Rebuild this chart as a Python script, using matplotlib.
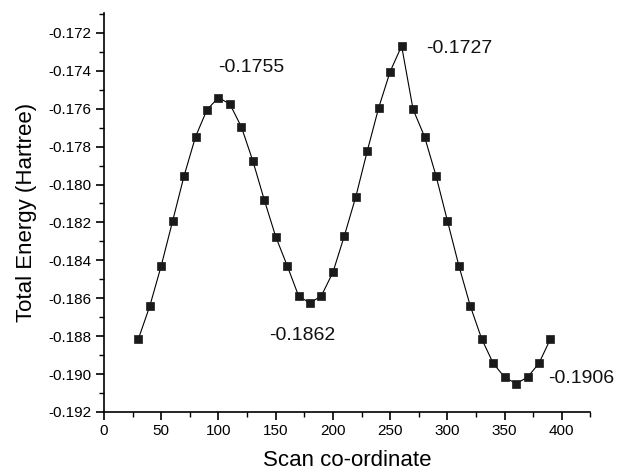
import matplotlib
matplotlib.use("Agg")
import matplotlib.pyplot as plt
from matplotlib.ticker import MultipleLocator, FormatStrFormatter

plt.rcParams['font.family'] = ['Liberation Sans', 'DejaVu Sans']

scan = [30, 40, 50, 60, 70, 80, 90, 100, 110, 120, 130, 140, 150, 160, 170, 180, 190,
        200, 210, 220, 230, 240, 250, 260, 270, 280, 290, 300, 310, 320, 330, 340, 350,
        360, 370, 380, 390]
energy = [-0.18815, -0.18641, -0.18428, -0.18191, -0.17953, -0.17747, -0.17605, -0.17541,
          -0.17576, -0.17696, -0.17875, -0.18081, -0.18275, -0.18428, -0.18588, -0.18626,
          -0.18586, -0.18463, -0.18270, -0.18064, -0.17823, -0.17594, -0.17404, -0.17269,
          -0.17603, -0.17747, -0.17953, -0.18191, -0.18428, -0.18641, -0.18815, -0.18943,
          -0.19017, -0.19050, -0.19017, -0.18943, -0.18815]

labels = ["-0.1755", "-0.1727", "-0.1862", "-0.1906"]
label_x = [100, 281, 144, 388]
label_y = [-0.1738, -0.1728, -0.18794, -0.19021]

fig = plt.figure(figsize=(6.17, 4.76), dpi=100)
ax = fig.add_axes([0.1686, 0.1345, 0.957 - 0.1686, 0.9727 - 0.1345])

ax.plot(scan, energy, color='black', linewidth=0.8, marker='s', markersize=6,
        markerfacecolor='#1a1a1a', markeredgecolor='#1a1a1a', markeredgewidth=0.5)

for t, x, y in zip(labels, label_x, label_y):
    ax.text(x, y, t, fontsize=14, ha='left', va='center', color='#111111')

ax.set_xlim(0, 425)
ax.set_ylim(-0.192, -0.17095)
ax.xaxis.set_major_locator(MultipleLocator(50))
ax.xaxis.set_minor_locator(MultipleLocator(25))
ax.yaxis.set_major_locator(MultipleLocator(0.002))
ax.yaxis.set_minor_locator(MultipleLocator(0.001))
ax.yaxis.set_major_formatter(FormatStrFormatter('%.3f'))

ax.spines['top'].set_visible(False)
ax.spines['right'].set_visible(False)
for s in ['left', 'bottom']:
    ax.spines[s].set_linewidth(1.2)
ax.tick_params(which='major', direction='out', length=6, width=1.2, labelsize=11, pad=3)
ax.tick_params(which='minor', direction='out', length=3.5, width=1.0)

ax.set_xlabel('Scan co-ordinate', fontsize=16, labelpad=8)
ax.set_ylabel('Total Energy (Hartree)', fontsize=16, labelpad=8)

fig.savefig('out.png', dpi=100)
